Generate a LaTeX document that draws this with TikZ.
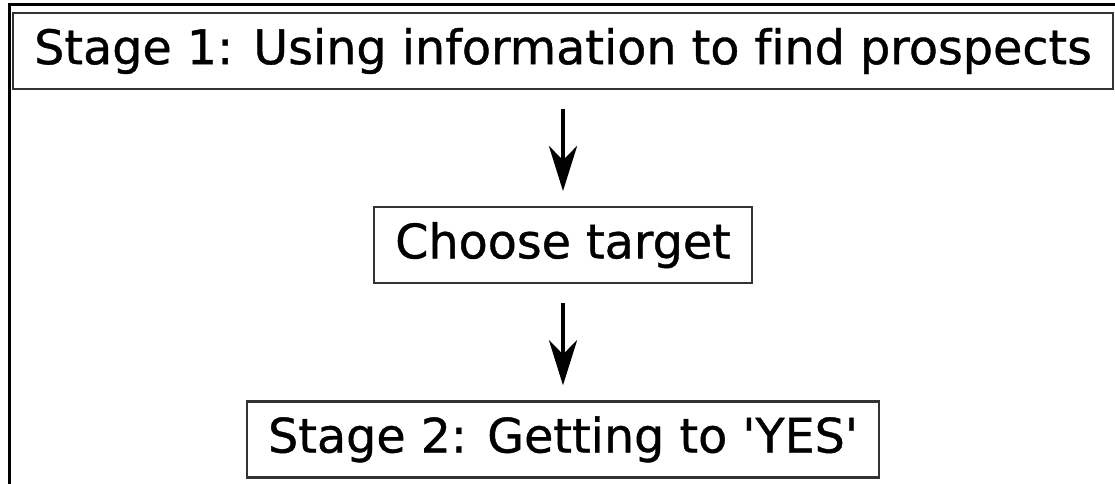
\documentclass[tikz,border=0pt]{standalone}
\usepackage{fontspec}
\setmainfont{DejaVu Sans}[Ligatures=NoCommon, FakeBold=0.8]
\usepackage{tikz}
\usetikzlibrary{positioning, arrows.meta}
\tikzstyle{stage} = [rectangle, minimum height=76pt, inner xsep=21pt, text centered, draw=black!80, line width=2.2pt, font=\fontsize{47.6}{57}\selectfont]
\tikzstyle{arrow} = [line width=4.5pt,-{Stealth[length=45pt,width=28pt,inset=14pt]}, shorten <=19pt, shorten >=15pt]

\begin{document}
\begin{tikzpicture}[node distance=116pt]
\useasboundingbox (0,0) rectangle (1115pt,-483pt);
\draw [line width=3pt] (9.5pt,-490pt) -- (9.5pt,-4.5pt) -- (1120pt,-4.5pt);

\node (stage1) [stage] at (563pt,-51pt) {Stage 1: Using information to find prospects};
\node (target) [stage, below=of stage1] {Choose target};
\node (stage2) [stage, below=of target] {Stage 2: Getting to \textquotesingle YES\textquotesingle};

\draw [arrow] (stage1) -- (target);
\draw [arrow] (target) -- (stage2);
\end{tikzpicture}
\end{document}
